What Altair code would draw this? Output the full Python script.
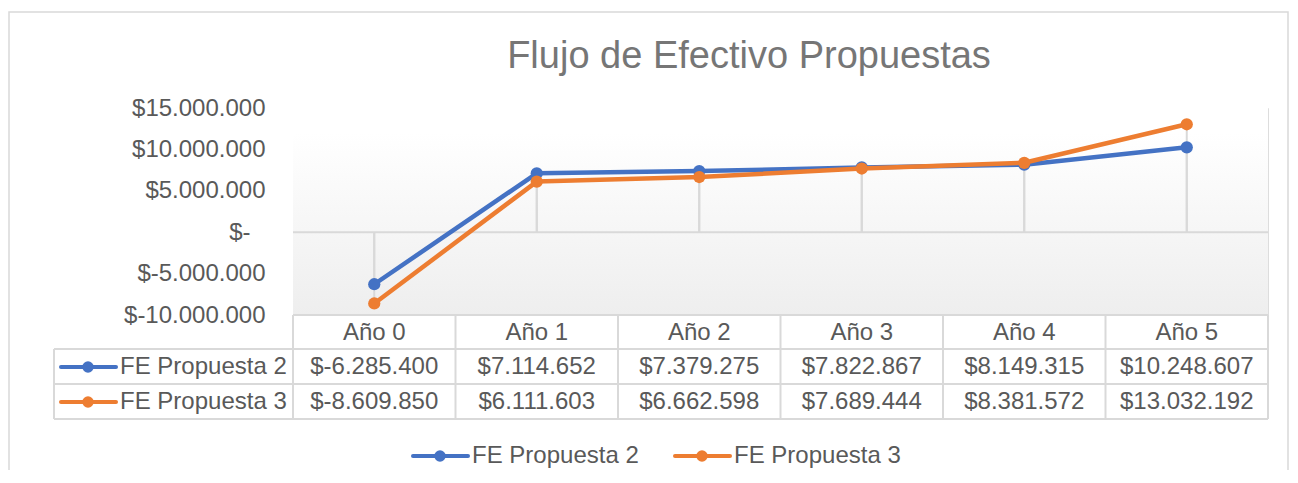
import altair as alt
import pandas as pd

# ---- data ----
years = ["Año 0", "Año 1", "Año 2", "Año 3", "Año 4", "Año 5"]
series_names = ["FE Propuesta 2", "FE Propuesta 3"]
fe_p2 = [-6285400, 7114652, 7379275, 7822867, 8149315, 10248607]
fe_p3 = [-8609850, 6111603, 6662598, 7689444, 8381572, 13032192]
series_colors = ["#4472C4", "#ED7D31"]
y_ticks = [-10000000, -5000000, 0, 5000000, 10000000, 15000000]
title_text = "Flujo de Efectivo Propuestas"

FONT = "Liberation Sans"
TXT = "#595959"
GRID = "#d9d9d9"
W, H = 975, 207
HALF = W / len(years) / 2


def money(v):
    s = f"{abs(v):,}".replace(",", ".")
    return ("$-" if v < 0 else "$") + s


rows = []
for name, vals in zip(series_names, [fe_p2, fe_p3]):
    for yr, v in zip(years, vals):
        rows.append({"year": yr, "series": name, "value": v, "label": money(v)})
df = pd.DataFrame(rows)
years_df = pd.DataFrame({"year": years})
one = pd.DataFrame({"k": [0]})

color_scale = alt.Scale(domain=series_names, range=series_colors)
X = alt.X("year:N", sort=years, axis=None,
          scale=alt.Scale(type="point", domain=years, padding=0.5))
label_expr = ("datum.value == 0 ? '$-' : (datum.value < 0 ? '$-' : '$') + "
              "replace(format(abs(datum.value), ','), regexp(',', 'g'), '.')")
Y = alt.Y("value:Q", title=None,
          scale=alt.Scale(domain=[-10000000, 15000000], nice=False, zero=False),
          axis=alt.Axis(values=y_ticks, labelExpr=label_expr, ticks=False, tickSize=0,
                        domain=False, grid=False, labelFontSize=24, labelColor=TXT,
                        labelFont=FONT,
                        labelPadding=alt.condition("datum.value == 0",
                                                   alt.value(43), alt.value(28)),
                        labelFlush=False, labelOverlap=False, labelBaseline="middle"))

layers = []

# outer chart border
layers.append(alt.Chart(one).mark_rect(fill="transparent", stroke=GRID, strokeWidth=1.5).encode(
    x=alt.value(-284), x2=alt.value(995), y=alt.value(-96), y2=alt.value(420)))

# plot-area gradient
grad = alt.LinearGradient(gradient="linear", x1=0, x2=0, y1=0, y2=1, stops=[
    alt.GradientStop(color="#ffffff", offset=0),
    alt.GradientStop(color="#ffffff", offset=0.12),
    alt.GradientStop(color="#eeeeee", offset=1)])
layers.append(alt.Chart(one).mark_rect(fill=grad).encode(
    x=alt.value(0), x2=alt.value(W), y=alt.value(0), y2=alt.value(H)))

# zero line
layers.append(alt.Chart(one).mark_rule(color=GRID, strokeWidth=2).encode(
    y=alt.datum(0, scale=alt.Scale(domain=[-10000000, 15000000], nice=False, zero=False))))

# drop lines
layers.append(alt.Chart(df).mark_rule(color=GRID, strokeWidth=2).encode(
    x=X, y=Y, y2=alt.datum(0)))

# ---- data table grid ----
for yy, x0 in [(H, 0), (241, -239), (276, -239), (311, -239)]:
    layers.append(alt.Chart(one).mark_rule(color=GRID, strokeWidth=2).encode(
        x=alt.value(x0), x2=alt.value(W), y=alt.value(yy)))
layers.append(alt.Chart(one).mark_rule(color=GRID, strokeWidth=2).encode(
    x=alt.value(-239), y=alt.value(241), y2=alt.value(311)))
layers.append(alt.Chart(years_df).mark_rule(color=GRID, strokeWidth=2, xOffset=-HALF).encode(
    x=X, y=alt.value(H), y2=alt.value(311)))
layers.append(alt.Chart(years_df[years_df.year == years[-1]]).mark_rule(
    color=GRID, strokeWidth=2, xOffset=HALF).encode(
    x=X, y=alt.value(H), y2=alt.value(311)))

# header row
layers.append(alt.Chart(years_df).mark_text(font=FONT, fontSize=24, color=TXT,
                                            baseline="middle").encode(
    x=X, y=alt.value(225), text="year:N"))

row_y = [259, 294]
legend_x = [120, 382]
for i, name in enumerate(series_names):
    sub = df[df.series == name]
    key = pd.DataFrame({"series": [name]})
    C = alt.Color("series:N", scale=color_scale, legend=None)
    # table values
    layers.append(alt.Chart(sub).mark_text(font=FONT, fontSize=24, color=TXT,
                                           baseline="middle").encode(
        x=X, y=alt.value(row_y[i]), text="label:N"))
    # table row key
    layers.append(alt.Chart(key).mark_rule(strokeWidth=4, strokeCap="round").encode(
        x=alt.value(-232), x2=alt.value(-177), y=alt.value(row_y[i]), color=C))
    layers.append(alt.Chart(key).mark_point(filled=True, size=130, opacity=1).encode(
        x=alt.value(-205), y=alt.value(row_y[i]), color=C))
    layers.append(alt.Chart(key).mark_text(font=FONT, fontSize=24, color=TXT,
                                           align="left", baseline="middle").encode(
        x=alt.value(-173), y=alt.value(row_y[i]), text="series:N"))
    # bottom legend
    lx = legend_x[i]
    layers.append(alt.Chart(key).mark_rule(strokeWidth=4, strokeCap="round").encode(
        x=alt.value(lx), x2=alt.value(lx + 55), y=alt.value(348), color=C))
    layers.append(alt.Chart(key).mark_point(filled=True, size=130, opacity=1).encode(
        x=alt.value(lx + 27), y=alt.value(348), color=C))
    layers.append(alt.Chart(key).mark_text(font=FONT, fontSize=24, color=TXT,
                                           align="left", baseline="middle").encode(
        x=alt.value(lx + 59), y=alt.value(348), text="series:N"))

# series lines and markers
for name in series_names:
    sub = df[df.series == name]
    C = alt.Color("series:N", scale=color_scale, legend=None)
    layers.append(alt.Chart(sub).mark_line(strokeWidth=4.5, strokeJoin="round",
                                           strokeCap="round").encode(x=X, y=Y, color=C))
    layers.append(alt.Chart(sub).mark_point(filled=True, size=150, opacity=1).encode(
        x=X, y=Y, color=C))

# chart title
layers.append(alt.Chart(one).mark_text(text=title_text, font=FONT, fontSize=38,
                                       color="#767676", align="center",
                                       baseline="alphabetic").encode(
    x=alt.value(456), y=alt.value(-40)))

chart = alt.layer(*layers).properties(
    width=W, height=H,
    autosize=alt.AutoSizeParams(type="none"),
    padding={"left": 285, "top": 100, "right": 22, "bottom": 155},
).configure_view(strokeWidth=0).configure(font=FONT)

chart.save("out.html", embed_options={"renderer": "svg", "actions": False})
